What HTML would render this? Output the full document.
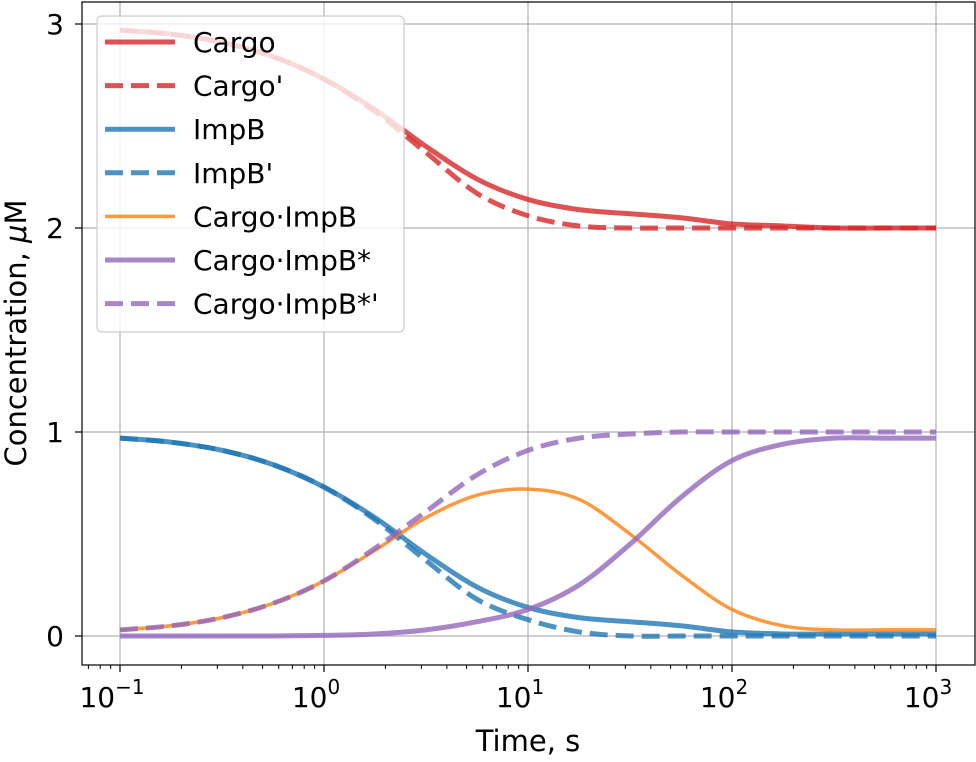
<!DOCTYPE html>
<html><head><meta charset="utf-8"><style>
body{margin:0;background:#fff}
svg text{font-family:"DejaVu Sans","Liberation Sans",sans-serif;fill:#000}
</style></head><body>
<svg id="chart" width="976" height="757" viewBox="0 0 976 757" xmlns="http://www.w3.org/2000/svg">
<rect width="976" height="757" fill="#fff"/>
<g id="grid"></g>
<g id="series"></g>
<rect x="82" y="2" width="893" height="663" fill="none" stroke="#000" stroke-width="1.2"/>
<g id="axes"></g>
<text x="528" y="751" font-size="29" text-anchor="middle">Time, s</text>
<text transform="translate(26,333) rotate(-90)" font-size="29" text-anchor="middle">Concentration, <tspan font-style="italic">μ</tspan>M</text>
<g id="legend"></g>
</svg>
<script>
const logT=[-1,-0.75,-0.5,-0.25,0,0.25,0.5,0.75,1,1.25,1.5,1.75,2,2.25,2.5,2.75,3];
const cargo=[2.97,2.95,2.91,2.84,2.73,2.58,2.40,2.24,2.14,2.09,2.07,2.05,2.02,2.01,2.00,2.00,2.00];
const cargoP=[2.97,2.95,2.91,2.84,2.73,2.57,2.37,2.17,2.06,2.01,2.00,2.00,2.00,2.00,2.00,2.00,2.00];
const impB=[0.97,0.95,0.91,0.84,0.73,0.58,0.40,0.24,0.14,0.09,0.07,0.05,0.02,0.01,0.01,0.01,0.01];
const impBP=[0.97,0.95,0.91,0.84,0.73,0.57,0.37,0.18,0.08,0.02,0.00,0.00,0.00,0.00,0.00,0.00,0.00];
const complex=[0.03,0.05,0.09,0.16,0.27,0.42,0.58,0.69,0.72,0.67,0.50,0.30,0.13,0.05,0.03,0.03,0.03];
const star=[0.00,0.00,0.00,0.00,0.003,0.01,0.03,0.07,0.13,0.25,0.45,0.68,0.86,0.94,0.97,0.97,0.97];
const starP=[0.03,0.05,0.09,0.16,0.27,0.43,0.61,0.79,0.91,0.97,0.99,1.00,1.00,1.00,1.00,1.00,1.00];
const xTickExp=[-1,0,1,2,3];
const yTicks=[0,1,2,3];
const legendLabels=["Cargo","Cargo'","ImpB","ImpB'","Cargo·ImpB","Cargo·ImpB*","Cargo·ImpB*'"];

const NS="http://www.w3.org/2000/svg";
const X=l=>120+(l+1)*204;
const Y=v=>636-v*204;
function mk(tag,attrs,parent){const e=document.createElementNS(NS,tag);for(const k in attrs)e.setAttribute(k,attrs[k]);parent.appendChild(e);return e;}
const grid=document.getElementById('grid'),axes=document.getElementById('axes'),ser=document.getElementById('series'),leg=document.getElementById('legend');
xTickExp.forEach(e=>{
  const g=mk('line',{x1:X(e),x2:X(e),y1:2,y2:665,stroke:'#b0b0b0','stroke-width':1.2},grid);
  
  
  const t=mk('line',{x1:X(e),x2:X(e),y1:665,y2:672,stroke:'#000','stroke-width':1.2},axes);
  
  
  const lb=mk('text',{x:X(e)-8,y:707,'font-size':28,'text-anchor':'middle'},axes);
  
  
  lb.innerHTML='10<tspan dy="-13" font-size="20">'+(e<0?'−'+(-e):e)+'</tspan>';
});
for(let d=-2;d<=3;d++){for(let m=2;m<=9;m++){const l=d+Math.log10(m);const px=X(l);if(px<82||px>975)continue;
  const t=mk('line',{x1:px,x2:px,y1:665,y2:669,stroke:'#000','stroke-width':1},axes);
  
  }}
yTicks.forEach(v=>{
  const g=mk('line',{x1:82,x2:975,y1:Y(v),y2:Y(v),stroke:'#b0b0b0','stroke-width':1.2},grid);
  
  
  const t=mk('line',{x1:75,x2:82,y1:Y(v),y2:Y(v),stroke:'#000','stroke-width':1.2},axes);
  
  
  const lb=mk('text',{x:64,y:Y(v)+10,'font-size':28,'text-anchor':'end'},axes);
  
  
  lb.textContent=v;
});
function path(vals){const p=logT.map((l,i)=>[X(l),Y(vals[i])]);let d='M'+p[0][0]+','+p[0][1];
  for(let i=0;i<p.length-1;i++){const p0=p[Math.max(i-1,0)],p1=p[i],p2=p[i+1],p3=p[Math.min(i+2,p.length-1)];
    const c1=[p1[0]+(p2[0]-p0[0])/6,p1[1]+(p2[1]-p0[1])/6],c2=[p2[0]-(p3[0]-p1[0])/6,p2[1]-(p3[1]-p1[1])/6];
    d+=' C'+c1[0]+','+c1[1]+' '+c2[0]+','+c2[1]+' '+p2[0]+','+p2[1];}return d;}
const specs=[[cargo,'#d62728',5,null,'cargo-line'],[cargoP,'#d62728',5,'18,8','cargo-prime-line'],[impB,'#1f77b4',5,null,'impb-line'],[impBP,'#1f77b4',5,'18,8','impb-prime-line'],[complex,'#ff7f0e',3.5,null,'cargo-impb-line'],[star,'#9467bd',5,null,'cargo-impb-star-line'],[starP,'#9467bd',5,'18,8','cargo-impb-star-prime-line']];
specs.forEach(s=>{const a={d:path(s[0]),fill:'none',stroke:s[1],'stroke-width':s[2],'stroke-opacity':0.8};if(s[3])a['stroke-dasharray']=s[3];
  const e=mk('path',a,ser);
  
  });
const box=mk('rect',{x:97,y:16,width:307,height:316,rx:5,fill:'#fff','fill-opacity':0.8,stroke:'#ccc','stroke-width':1.2},leg);


legendLabels.forEach((lab,i)=>{const y=42+i*43.6;const s=specs[i];
  const a={x1:105,x2:175,y1:y,y2:y,stroke:s[1],'stroke-width':s[2],'stroke-opacity':0.8};if(s[3])a['stroke-dasharray']=s[3];
  const ln=mk('line',a,leg);
  
  
  const t=mk('text',{x:193,y:y+10,'font-size':28},leg);
  
  
  t.textContent=lab;});
</script>
</body></html>
